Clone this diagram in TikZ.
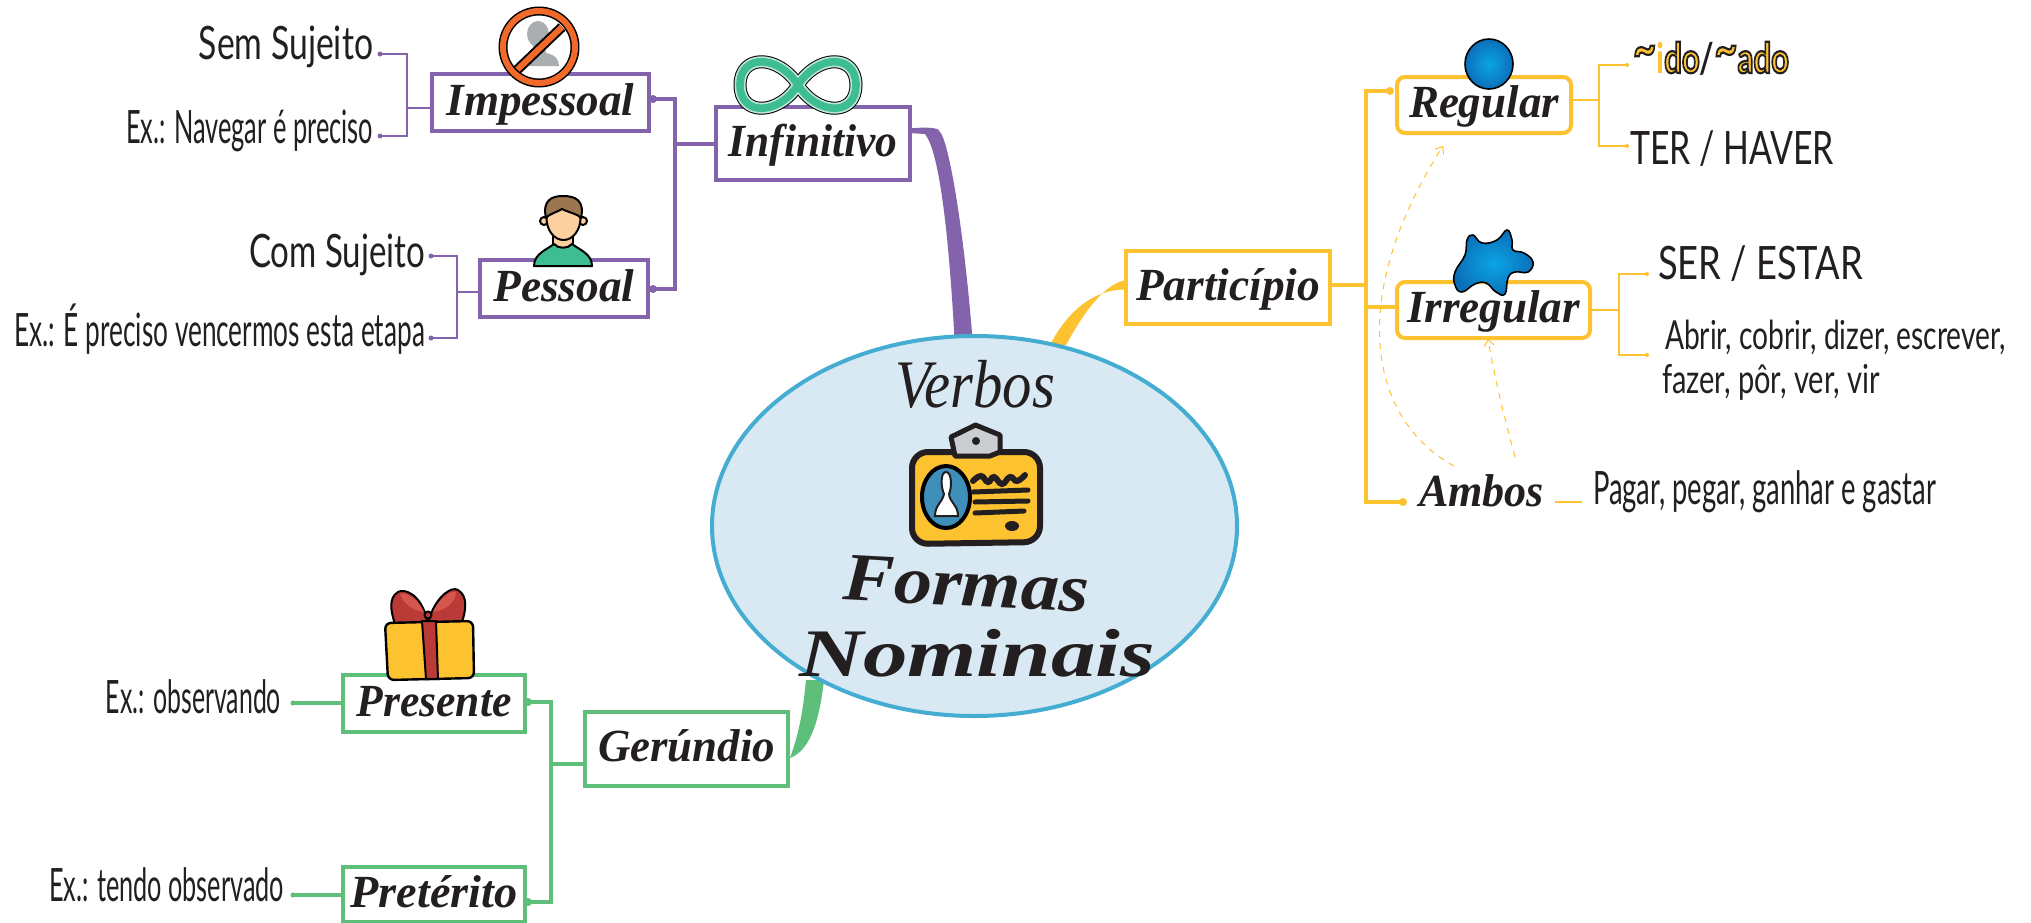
\documentclass[tikz,border=0pt]{standalone}
\usepackage{fontspec}
\usepackage{graphicx}
\setmainfont{Liberation Serif}
\newfontfamily\thinf{Lato}
\usetikzlibrary{shapes.geometric,calc,arrows.meta}
\pgfdeclarelayer{bg}
\pgfsetlayers{bg,main}
\definecolor{ink}{HTML}{231F20}
\definecolor{pur}{HTML}{8364AC}
\definecolor{yel}{HTML}{FDC230}
\definecolor{grn}{HTML}{5DBF7A}
\definecolor{sky}{HTML}{45ADD1}
\definecolor{pale}{HTML}{D9E9F3}
\definecolor{teal}{HTML}{3EBD93}
\definecolor{mint}{HTML}{BFE6D5}
\definecolor{org}{HTML}{F26A2B}
\definecolor{gry}{HTML}{A9AEB0}
\definecolor{rd}{HTML}{B93A36}
\definecolor{rdl}{HTML}{D5564E}
\definecolor{skin}{HTML}{FDD0A0}
\definecolor{hair}{HTML}{9C7650}
\definecolor{bluep}{HTML}{3F8FBB}
\definecolor{blin}{HTML}{0AA5E6}
\definecolor{blout}{HTML}{0B6FB8}
\newcommand\fitw[2]{\resizebox{\dimexpr#1pt/2\relax}{\height}{#2}}
\newcommand\labf{\fontsize{23}{23}\selectfont\bfseries\itshape}
\newcommand\thn{\fontsize{23}{23}\selectfont\thinf}
\newcommand\Son{\special{pdf:code 2 Tr 1.1 w 0.14 0.12 0.13 RG 0.99 0.76 0.19 rg}}
\newcommand\Sof{\special{pdf:code 0 Tr 0.99 0.76 0.19 rg}}
\newcommand\Srs{\special{pdf:code 0 Tr 0 0 0 RG 0 0 0 rg 1 w}}
\newcommand\bigtil{\raisebox{3pt}{\fontsize{27}{27}\selectfont\string~}}
\tikzset{
  bx/.style n args={3}{draw=#1,line width=2pt,inner sep=0pt,text=ink,text height=17.5pt,text depth=5pt,
     minimum width=#2*0.5pt,minimum height=#3*0.5pt,font=\labf},
  lab/.style={anchor=base,inner sep=0pt,text=ink,font=\thn},
  cdot/.style 2 args={circle,fill=#1,inner sep=0pt,minimum size=#2*0.5pt},
  thickc/.style={draw=#1,line width=2pt},
  thinc/.style={draw=#1,line width=1pt},
  dsh/.style={draw=yel,line width=0.5pt,dashed,-{Straight Barb[length=3pt,width=5pt]}},
  ik/.style={draw=black,line width=1pt,line join=round}
}
\begin{document}
\begin{tikzpicture}[x=0.5pt,y=-0.5pt]
\useasboundingbox (0,0) rectangle (2031,922);

%% centre
\node[ellipse,draw=sky,fill=pale,line width=2pt,inner sep=0pt,minimum width=262.5pt,minimum height=190pt] (ell) at (974.5,526) {};

%% boxes
\node[bx={pur}{217}{57}] (imp) at (540.5,102.5) {\fitw{188}{Impessoal}};
\node[bx={pur}{194}{73}] (inf) at (813,143.5) {\fitw{169}{Infinitivo}};
\node[bx={pur}{168}{57}] (pes) at (564,288.5) {\fitw{141}{Pessoal}};
\node[bx={yel}{204}{73}] (par) at (1228,287.5) {\fitw{184}{Particípio}};
\node[bx={yel}{174}{56},rounded corners=4pt] (reg) at (1484,105) {\fitw{150}{Regular}};
\node[bx={yel}{193}{56},rounded corners=4pt] (irr) at (1493.5,310) {\fitw{173}{Irregular}};
\node[bx={grn}{203}{74}] (ger) at (686.5,749) {\fitw{177}{Gerúndio}};
\node[bx={grn}{182}{57}] (pre) at (434,703.5) {\fitw{155}{Presente}};
\node[bx={grn}{182}{55}] (ptr) at (434,894.5) {\fitw{167}{Pretérito}};

%% dots and junctions
\node[cdot={pur}{8}] (dImp) at (653,99) {};
\node[cdot={pur}{8}] (dPes) at (653,289) {};
\node[cdot={pur}{5}] (dSem) at (380,54) {};
\node[cdot={pur}{5}] (dNav) at (380,136) {};
\node[cdot={pur}{5}] (dCom) at (431,256) {};
\node[cdot={pur}{5}] (dEpr) at (431,338) {};
\node[cdot={yel}{8}] (dReg) at (1390,91) {};
\node[cdot={yel}{8}] (dAmb) at (1403,502) {};
\node[cdot={yel}{4}] (dIdo) at (1627,65) {};
\node[cdot={yel}{4}] (dTer) at (1627,146) {};
\node[cdot={yel}{4}] (dSer) at (1647,274) {};
\node[cdot={yel}{4}] (dAbr) at (1647,355) {};
\node[cdot={grn}{8}] (dPre) at (528,702) {};
\node[cdot={grn}{8}] (dPtr) at (528,902) {};
\node[cdot={grn}{5}] (dObs) at (293,703) {};
\node[cdot={grn}{5}] (dTen) at (293,895) {};
\coordinate (jP) at (675,143.5);
\coordinate (tImp) at (407,108);
\coordinate (tPes) at (457,292);
\coordinate (jY) at (1366,285);
\coordinate (tReg) at (1599,100);
\coordinate (tIrr) at (1619,310);
\coordinate (jG) at (551,764);
\coordinate (aR) at (1454,466);
\coordinate (aI) at (1515,457);
\coordinate (hR) at (1443,146);
\coordinate (hI) at (1488,339);
\coordinate (sAmb) at (1555,502);
\coordinate (eAmb) at (1582,502);

%% texts
\node[lab] (t1) at (286,59) {\fitw{174}{Sem Sujeito}};
\node[lab] (t2) at (249.5,143) {\fitw{247}{Ex.: Navegar é preciso}};
\node[lab] (t3) at (337,267) {\fitw{176}{Com Sujeito}};
\node[lab] (t4) at (219.5,346) {\fitw{411}{Ex.: É preciso vencermos esta etapa}};
\node[lab,font=\fontsize{21}{21}\selectfont\thinf\bfseries] (t5) at (1711,73) {\fitw{156}{\Son\bigtil\Sof i\Son do\Srs\textcolor{ink}{/}\Son\bigtil ado\Srs}};
\node[lab] (t6) at (1732,164) {\fitw{204}{TER / HAVER}};
\node[lab] (t7) at (1760.5,279) {\fitw{205}{SER / ESTAR}};
\node[lab,font=\fontsize{20}{20}\selectfont\thinf] (t8) at (1835.5,349) {\fitw{341}{Abrir, cobrir, dizer, escrever,}};
\node[lab,font=\fontsize{20}{20}\selectfont\thinf] (t9) at (1771,393) {\fitw{218}{fazer, pôr, ver, vir}};
\node[lab] (t10) at (1764.5,504) {\fitw{343}{Pagar, pegar, ganhar e gastar}};
\node[lab,font=\labf] (amb) at (1481.5,506) {\fitw{125}{Ambos}};
\node[lab] (t11) at (193.5,713) {\fitw{175}{Ex.: observando}};
\node[lab] (t12) at (166.5,901) {\fitw{235}{Ex.: tendo observado}};
\node[lab,font=\fontsize{34}{34}\selectfont\itshape] (vb) at (975,407) {\fitw{160}{Verbos}};
\node[lab,font=\fontsize{34}{34}\selectfont\bfseries\itshape,rotate=-3] (fm) at (965,606) {\fitw{246}{Formas}};
\node[lab,font=\fontsize{34}{34}\selectfont\bfseries\itshape] (nm) at (977,676) {\fitw{356}{Nominais}};

%% connectors
\begin{pgfonlayer}{bg}
\fill[white] (0,0) rectangle (2031,922);
\fill[pur] ($(inf.east)+(-3,-15.5)$) -- (915,128) .. controls (930,127) and (940,128) .. (940,132) .. controls (948,140) and (963,220) .. ($(ell.90)+(-2,5)$) -- ($(ell.90)+(-20,5)$)
   .. controls (948,220) and (938,150) .. (925,134) -- ($(inf.east)+(-3,-10.5)$) -- cycle;
\fill[yel] ($(par.west)+(2,-7.5)$) .. controls (1104,284) and (1084,312) .. (1066,345) -- (1050,345) .. controls (1068,310) and (1095,289) .. ($(par.west)+(2,2)$) -- cycle;
\fill[grn] (824,680) .. controls (820,715) and (812,750) .. ($(ger.east)+(0,9)$) .. controls (800,730) and (803,710) .. (806,680) -- cycle;

\draw[thickc=pur] (dImp.center) -| (jP) |- (dPes.center);
\draw[thickc=pur] (jP) -- (inf.west);
\draw[thinc=pur] (dSem.center) -| (tImp) |- (dNav.center);
\draw[thinc=pur] (tImp) -- ($(imp.west)+(0,5.5)$);
\draw[thinc=pur] (dCom.center) -| (tPes) |- (dEpr.center);
\draw[thinc=pur] (tPes) -- ($(pes.west)+(0,3.5)$);

\draw[thickc=yel] (jY) -- ($(par.east)+(0,-2.5)$);
\draw[thickc=yel] (dReg.center) -| (jY) |- (dAmb.center);
\draw[thickc=yel] ($(irr.west)+(0,-3)$) -- ($(irr.west -| jY)+(0,-3)$);
\draw[draw=yel,line width=1.3pt] (dIdo.center) -| (tReg) |- (dTer.center);
\draw[draw=yel,line width=1.3pt] (tReg) -- ($(reg.east)+(0,-5)$);
\draw[draw=yel,line width=1.3pt] (dSer.center) -| (tIrr) |- (dAbr.center);
\draw[draw=yel,line width=1.3pt] (tIrr) -- (irr.east);
\draw[draw=yel,line width=0.8pt] (sAmb) -- (eAmb);
\draw[dsh] (aR) .. controls (1370,420) and (1345,300) .. (hR);
\draw[dsh] (aI) .. controls (1505,420) and (1495,380) .. (hI);

\draw[thickc=grn] (dPre.center) -| (jG) |- (dPtr.center);
\draw[thickc=grn] (jG) -- ($(ger.west)+(0,15)$);
\draw[thickc=grn] (dObs.center) -- ($(pre.west)+(0,-0.5)$);
\draw[thickc=grn] (dTen.center) -- ($(ptr.west)+(0,0.5)$);
\end{pgfonlayer}

%% icon: no person
\fill[white] (539,47) circle (35);
\fill[gry] (538,34) ellipse [x radius=11,y radius=13];
\fill[gry] (532,42) -- (544,42) -- (546,53) .. controls (556,55) and (559,60) .. (559,66) -- (527,66) .. controls (527,60) and (530,55) .. (534,52) -- cycle;
\draw[draw=black,line width=5pt] (562,27) -- (517,70);
\draw[draw=org,line width=3pt] (562,27) -- (517,70);
\draw[draw=black,line width=4.5pt] (539,47) circle (36);
\draw[draw=org,line width=3pt] (539,47) circle (36);

%% icon: infinity
\def\infpath{(798,85) .. controls (818,54) and (856,54) .. (856,85) .. controls (856,116) and (818,116) .. (798,85) .. controls (778,54) and (740,54) .. (740,85) .. controls (740,116) and (778,116) .. (798,85) -- cycle}
\draw[draw=black,line width=6.5pt,line join=round] \infpath;
\draw[draw=mint,line width=5.5pt,line join=round] \infpath;
\draw[draw=teal,line width=3.8pt,line join=round] \infpath;

%% icon: person
\draw[ik,fill=skin] (553,232) rectangle (573,250);
\draw[ik,fill=teal] (534,266) .. controls (534,254) and (546,250) .. (554,244) .. controls (558,249) and (568,249) .. (572,244) .. controls (580,250) and (592,254) .. (592,266) -- cycle;
\draw[ik,fill=skin] (544,221) circle (4);
\draw[ik,fill=skin] (583,221) circle (4);
\draw[ik,fill=skin] (563.5,218) ellipse [x radius=17,y radius=22];
\draw[ik,fill=hair] (546,218) .. controls (542,200) and (552,196) .. (563,196) .. controls (575,196) and (585,200) .. (581,218) .. controls (578,214) and (570,213) .. (562,209) .. controls (555,213) and (549,214) .. (546,218) -- cycle;

%% icon: gift
\draw[ik,fill=rd] (426,616) .. controls (420,595) and (405,588) .. (398,592) .. controls (388,598) and (391,612) .. (395,624) -- (428,624) -- cycle;
\draw[ik,fill=rd] (430,616) .. controls (438,595) and (452,586) .. (458,590) .. controls (468,596) and (466,610) .. (462,622) -- (428,624) -- cycle;
\fill[rdl] (400,594) .. controls (405,592) and (418,598) .. (424,612) .. controls (412,610) and (404,604) .. (400,594) -- cycle;
\fill[rdl] (456,592) .. controls (450,590) and (438,600) .. (433,612) .. controls (445,610) and (455,604) .. (456,592) -- cycle;
\draw[draw=black,line width=1.2pt,fill=yel,rounded corners=3pt] (385,623) -- (473,621) -- (474,678) -- (388,680) -- cycle;
\draw[draw=black,line width=1pt,fill=rd] (422,621) -- (436,621) -- (438,679) -- (426,679) -- cycle;
\draw[ik,fill=rd] (428,615) circle (3.5);

%% icon: regular
\shade[inner color=blin,outer color=blout,draw=black,line width=0.8pt] (1489,64) ellipse [x radius=24,y radius=25];

%% icon: blob
\shade[inner color=blin,outer color=blout,draw=black,line width=0.8pt]
 plot[smooth cycle,tension=0.75] coordinates {(1467,240) (1473,235) (1482,243) (1497,240) (1507,230) (1512,240) (1513,250) (1524,253) (1533,262) (1528,272) (1515,272) (1508,278) (1505,294) (1496,292) (1486,283) (1475,284) (1462,292) (1455,285) (1455,272) (1465,255)};

%% icon: badge
\draw[draw=ink,line width=3pt,fill=yel,rounded corners=8pt] (912,452) -- (1040,452) -- (1040,542) -- (912,544) -- cycle;
\draw[draw=ink,line width=2.5pt,fill=gry!60!white,line join=round] (951,437) -- (975.5,425) -- (1000,435) -- (1000,452) -- (990,456) -- (955,456) -- cycle;
\fill[ink] (976,441) circle (4);
\draw[draw=black,line width=2pt,fill=bluep] (946,497) ellipse [x radius=24,y radius=31];
\draw[draw=ink,line width=1pt,fill=white] (946,472) .. controls (940,472) and (941,488) .. (944,494) .. controls (942,503) and (935,505) .. (935,516) -- (958,516) .. controls (958,505) and (950,503) .. (949,494) .. controls (952,488) and (952,472) .. (946,472) -- cycle;
\draw[draw=ink,line width=3pt,line cap=round] plot[smooth,tension=0.8] coordinates {(973,481) (981,476) (988,482) (994,477) (1002,484) (1010,477) (1017,481) (1025,475)};
\draw[draw=ink,line width=2.5pt,line cap=round] (973,492) -- (1028,490);
\draw[draw=ink,line width=2.5pt,line cap=round] (975,502) -- (1028,501);
\draw[draw=ink,line width=2.5pt,line cap=round] (975,513) -- (1024,511);
\fill[ink] (1012,526) ellipse [x radius=7,y radius=5];
\end{tikzpicture}
\end{document}
